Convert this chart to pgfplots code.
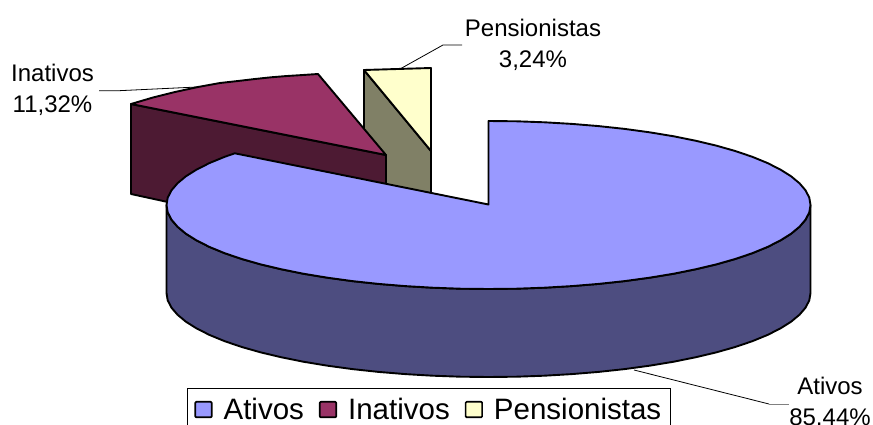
\documentclass[border=0pt]{standalone}
\usepackage{pgfplots}
\pgfplotsset{compat=1.18}
\usepackage{fontspec}
\setmainfont{Liberation Sans}
\definecolor{at}{HTML}{9999FF}
\definecolor{atd}{HTML}{4D4D80}
\definecolor{in}{HTML}{993366}
\definecolor{ind}{HTML}{4D1A33}
\definecolor{pe}{HTML}{FFFFCC}
\definecolor{ped}{HTML}{808066}
\begin{document}
\begin{tikzpicture}[x=1pt,y=1pt]
\clip (0,0) rectangle (873,425);
\begin{axis}[
  at={(0,0)},anchor=south west,
  scale only axis,width=873pt,height=425pt,
  xmin=0,xmax=873,ymin=0,ymax=425,y dir=reverse,
  axis lines=none,clip=false,
  every axis plot/.append style={forget plot,line width=1.9pt,line join=round},
  legend style={at={(axis cs:187,388)},anchor=north west,draw=black,line width=0.8pt,
    legend columns=3,font=\fontsize{29.5}{34}\selectfont,inner xsep=7pt,inner ysep=8pt,
    /tikz/every odd column/.append style={column sep=9pt},
    /tikz/every even column/.append style={column sep=13pt}},
  legend cell align=left,
  legend image code/.code={\draw[#1,line width=1.7pt,rounded corners=1pt] (0pt,-7.5pt) rectangle (16.5pt,8pt);},
]
% Pensionistas
\addplot[draw=black,fill=ped] coordinates {(364,70)(431,151)(431,200)(380,200)(364,190)} -- cycle;
\addplot[draw=black,fill=pe] coordinates {(364,70)(431,68)(431,151)} -- cycle;
% Inativos
\addplot[draw=black,fill=ind] coordinates {(131,104)(386,155)(386,195)(170,202.5)(131,194)} -- cycle;
\addplot[draw=black,fill=in] coordinates {(131,104)(153,97.5)(175,92)(198,87)(220,83)(238,81)(255,79)(271,77.3)(287,76)(303,75)(318,74)(386,155)} -- cycle;
% Ativos wall
\addplot[draw=black,fill=atd] coordinates {(810.5,205)(809.3,212.3)(805.6,219.6)(799.5,226.7)(791.1,233.7)(780.3,240.5)(767.4,247)(752.3,253.2)(735.2,259)(716.2,264.4)(695.5,269.3)(673.2,273.8)(649.5,277.7)(624.6,281.1)(598.6,283.9)(571.8,286.1)(544.4,287.7)(516.6,288.7)(488.5,289)(460.4,288.7)(432.6,287.7)(405.2,286.1)(378.4,283.9)(352.4,281.1)(327.5,277.7)(303.8,273.8)(281.5,269.3)(260.8,264.4)(241.8,259)(224.7,253.2)(209.6,247)(196.7,240.5)(185.9,233.7)(177.5,226.7)(171.4,219.6)(167.7,212.3)(166.5,205)
(166.5,293)(167.7,300.3)(171.4,307.6)(177.5,314.7)(185.9,321.7)(196.7,328.5)(209.6,335)(224.7,341.2)(241.8,347)(260.8,352.4)(281.5,357.3)(303.8,361.8)(327.5,365.7)(352.4,369.1)(378.4,371.9)(405.2,374.1)(432.6,375.7)(460.4,376.7)(488.5,377)(516.6,376.7)(544.4,375.7)(571.8,374.1)(598.6,371.9)(624.6,369.1)(649.5,365.7)(673.2,361.8)(695.5,357.3)(716.2,352.4)(735.2,347)(752.3,341.2)(767.4,335)(780.3,328.5)(791.1,321.7)(799.5,314.7)(805.6,307.6)(809.3,300.3)(810.5,293)} -- cycle;
% Ativos top
\addplot[draw=black,fill=at] coordinates {(488.5,121)(516.6,121.3)(544.4,122.3)(571.8,123.9)(598.6,126.1)(624.6,128.9)(649.5,132.3)(673.2,136.2)(695.5,140.7)(716.2,145.6)(735.2,151)(752.3,156.8)(767.4,163)(780.3,169.5)(791.1,176.3)(799.5,183.3)(805.6,190.4)(809.3,197.7)(810.5,205)(809.3,212.3)(805.6,219.6)(799.5,226.7)(791.1,233.7)(780.3,240.5)(767.4,247)(752.3,253.2)(735.2,259)(716.2,264.4)(695.5,269.3)(673.2,273.8)(649.5,277.7)(624.6,281.1)(598.6,283.9)(571.8,286.1)(544.4,287.7)(516.6,288.7)(488.5,289)(460.4,288.7)(432.6,287.7)(405.2,286.1)(378.4,283.9)(352.4,281.1)(327.5,277.7)(303.8,273.8)(281.5,269.3)(260.8,264.4)(241.8,259)(224.7,253.2)(209.6,247)(196.7,240.5)(185.9,233.7)(177.5,226.7)(171.4,219.6)(167.7,212.3)(166.5,205)(167.7,197.7)(171.4,190.4)(177.5,183.3)(185.9,176.3)(196.7,169.5)(209.6,163)(224.7,156.8)(234.8,153.3)(488.5,204.5)} -- cycle;
% Leader lines
\addplot[draw=black,line width=0.8pt] coordinates {(99,90.7)(119,90.7)(197,87)};
\addplot[draw=black,line width=0.8pt] coordinates {(462,45)(443,45)(400,69)};
\addplot[draw=black,line width=0.8pt] coordinates {(634,370)(769,404)};
\addplot[draw=gray,line width=1pt] coordinates {(769,404)(789,404)};
% Data labels
\node[font=\fontsize{24}{24}\selectfont,anchor=base] at (axis cs:533,37) {Pensionistas};
\node[font=\fontsize{24}{24}\selectfont,anchor=base] at (axis cs:533,68) {3,24\%};
\node[font=\fontsize{24}{24}\selectfont,anchor=base] at (axis cs:52.5,82) {Inativos};
\node[font=\fontsize{24}{24}\selectfont,anchor=base] at (axis cs:52.5,113) {11,32\%};
\node[font=\fontsize{24}{24}\selectfont,anchor=base] at (axis cs:830,394) {Ativos};
\node[font=\fontsize{24}{24}\selectfont,anchor=base] at (axis cs:830,425) {85,44\%};
% Legend
\addlegendimage{draw=black,fill=at}\addlegendentry{Ativos}
\addlegendimage{draw=black,fill=in}\addlegendentry{Inativos}
\addlegendimage{draw=black,fill=pe}\addlegendentry{Pensionistas\hspace{-7pt}}
\end{axis}
\end{tikzpicture}
\end{document}
